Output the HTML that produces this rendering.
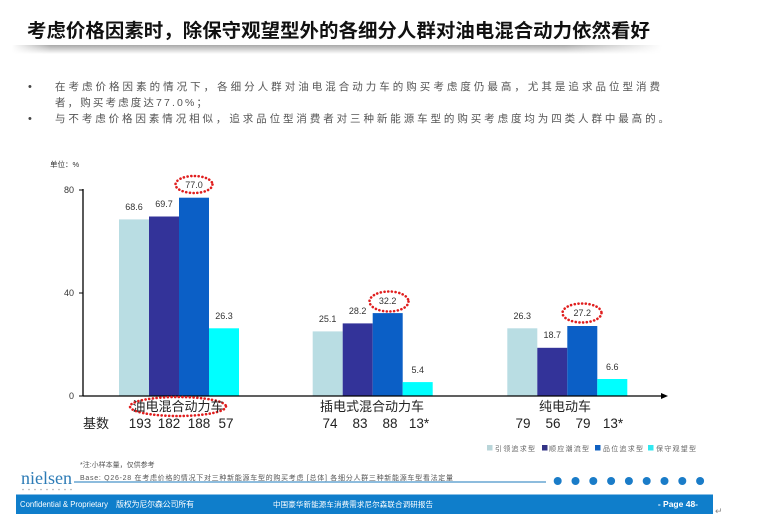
<!DOCTYPE html>
<html>
<head>
<meta charset="utf-8">
<style>
  html,body{margin:0;padding:0;background:#fff;}
  body{width:760px;height:527px;overflow:hidden;position:relative;}
  svg{display:block;}
  .cjk{font-family:"Liberation Sans","Noto Sans CJK SC","WenQuanYi Zen Hei",sans-serif;}
</style>
</head>
<body>
<svg width="760" height="527" viewBox="0 0 760 527" xmlns="http://www.w3.org/2000/svg">
  <defs>
    <linearGradient id="shv" x1="0" y1="0" x2="0" y2="1">
      <stop offset="0" stop-color="#a8a8a8"/>
      <stop offset="0.5" stop-color="#d4d4d4"/>
      <stop offset="1" stop-color="#ffffff"/>
    </linearGradient>
    <linearGradient id="shh" x1="0" y1="0" x2="1" y2="0">
      <stop offset="0" stop-color="#fff" stop-opacity="1"/>
      <stop offset="0.06" stop-color="#fff" stop-opacity="0"/>
      <stop offset="0.85" stop-color="#fff" stop-opacity="0"/>
      <stop offset="1" stop-color="#fff" stop-opacity="1"/>
    </linearGradient>
  </defs>

  <!-- Title -->
  <text x="27" y="37" class="cjk" font-size="19" font-weight="bold" fill="#111" textLength="623" lengthAdjust="spacingAndGlyphs">考虑价格因素时，除保守观望型外的各细分人群对油电混合动力依然看好</text>
  <rect x="12" y="45" width="650" height="9" fill="url(#shv)"/>
  <rect x="12" y="45" width="650" height="9" fill="url(#shh)"/>

  <!-- Bullets -->
  <text x="28" y="90" font-family="Liberation Sans, sans-serif" font-size="11" fill="#444">•</text>
  <text x="55" y="90" class="cjk" font-size="10.5" fill="#555" textLength="605" lengthAdjust="spacing">在考虑价格因素的情况下，各细分人群对油电混合动力车的购买考虑度仍最高，尤其是追求品位型消费</text>
  <text x="55" y="106" class="cjk" font-size="10.5" fill="#555" textLength="152" lengthAdjust="spacing">者，购买考虑度达77.0%；</text>
  <text x="28" y="122" font-family="Liberation Sans, sans-serif" font-size="11" fill="#444">•</text>
  <text x="55" y="122" class="cjk" font-size="10.5" fill="#555" textLength="614" lengthAdjust="spacing">与不考虑价格因素情况相似，追求品位型消费者对三种新能源车型的购买考虑度均为四类人群中最高的。</text>

  <!-- Chart axes -->
  <text x="50" y="167" class="cjk" font-size="7.5" fill="#333">单位：%</text>
  <line x1="83" y1="189" x2="83" y2="396.5" stroke="#000" stroke-width="1.3"/>
  <line x1="79" y1="190" x2="83" y2="190" stroke="#000" stroke-width="1"/>
  <line x1="79" y1="293" x2="83" y2="293" stroke="#000" stroke-width="1"/>
  <line x1="79" y1="396" x2="83" y2="396" stroke="#000" stroke-width="1"/>
  <text x="74" y="193" text-anchor="end" font-family="Liberation Sans, sans-serif" font-size="9" fill="#333">80</text>
  <text x="74" y="296" text-anchor="end" font-family="Liberation Sans, sans-serif" font-size="9" fill="#333">40</text>
  <text x="74" y="399" text-anchor="end" font-family="Liberation Sans, sans-serif" font-size="9" fill="#333">0</text>

  <!-- Group 1 -->
  <rect x="119" y="219.4" width="30" height="176.6" fill="#b9dde3"/>
  <rect x="149" y="216.5" width="30" height="179.5" fill="#333399"/>
  <rect x="179" y="197.7" width="30" height="198.3" fill="#0b5fc6"/>
  <rect x="209" y="328.3" width="30" height="67.7" fill="#00ffff"/>
  <!-- Group 2 -->
  <rect x="312.7" y="331.4" width="30" height="64.6" fill="#b9dde3"/>
  <rect x="342.7" y="323.4" width="30" height="72.6" fill="#333399"/>
  <rect x="372.7" y="313.1" width="30" height="82.9" fill="#0b5fc6"/>
  <rect x="402.7" y="382.1" width="30" height="13.9" fill="#00ffff"/>
  <!-- Group 3 -->
  <rect x="507.3" y="328.3" width="30" height="67.7" fill="#b9dde3"/>
  <rect x="537.3" y="347.8" width="30" height="48.2" fill="#333399"/>
  <rect x="567.3" y="326" width="30" height="70" fill="#0b5fc6"/>
  <rect x="597.3" y="379" width="30" height="17" fill="#00ffff"/>

  <!-- x axis -->
  <line x1="83" y1="396" x2="663" y2="396" stroke="#000" stroke-width="1.3"/>
  <polygon points="668,396 661,393 661,399" fill="#000"/>

  <!-- value labels -->
  <g font-family="Liberation Sans, sans-serif" font-size="9" fill="#333" text-anchor="middle">
    <text x="134" y="210">68.6</text>
    <text x="164" y="207">69.7</text>
    <text x="194" y="188">77.0</text>
    <text x="224" y="319">26.3</text>
    <text x="327.7" y="322">25.1</text>
    <text x="357.7" y="314">28.2</text>
    <text x="387.7" y="304">32.2</text>
    <text x="417.7" y="373">5.4</text>
    <text x="522.3" y="319">26.3</text>
    <text x="552.3" y="338">18.7</text>
    <text x="582.3" y="316">27.2</text>
    <text x="612.3" y="370">6.6</text>
  </g>

  <!-- red dotted ellipses -->
  <g fill="none" stroke="#e01e1e" stroke-width="2.6" stroke-dasharray="0.1 3.6" stroke-linecap="round">
    <ellipse cx="194" cy="184.5" rx="18.5" ry="8.5"/>
    <ellipse cx="389" cy="301.5" rx="19.5" ry="10"/>
    <ellipse cx="582" cy="313" rx="19.5" ry="9.5"/>
    <ellipse cx="178" cy="406.5" rx="48" ry="9.5"/>
  </g>

  <!-- category labels -->
  <g class="cjk" font-size="13" fill="#222" text-anchor="middle">
    <text x="178" y="411">油电混合动力车</text>
    <text x="372" y="411">插电式混合动力车</text>
    <text x="565" y="411">纯电动车</text>
  </g>
  <text x="83" y="428" class="cjk" font-size="13" fill="#222">基数</text>
  <g font-family="Liberation Sans, sans-serif" font-size="13.5" fill="#222" text-anchor="middle">
    <text x="140" y="428">193</text>
    <text x="169" y="428">182</text>
    <text x="199" y="428">188</text>
    <text x="226" y="428">57</text>
    <text x="330" y="428">74</text>
    <text x="360" y="428">83</text>
    <text x="390" y="428">88</text>
    <text x="419" y="428">13*</text>
    <text x="523" y="428">79</text>
    <text x="553" y="428">56</text>
    <text x="583" y="428">79</text>
    <text x="613" y="428">13*</text>
  </g>

  <!-- legend -->
  <rect x="487" y="445" width="5.5" height="5.5" fill="#b9d5d9"/>
  <text x="495" y="451" class="cjk" font-size="7" fill="#666" textLength="40" lengthAdjust="spacing">引领追求型</text>
  <rect x="542" y="445" width="5.5" height="5.5" fill="#333385"/>
  <text x="549" y="451" class="cjk" font-size="7" fill="#666" textLength="40" lengthAdjust="spacing">顺应潮流型</text>
  <rect x="595" y="445" width="5.5" height="5.5" fill="#1060c0"/>
  <text x="603" y="451" class="cjk" font-size="7" fill="#666" textLength="40" lengthAdjust="spacing">品位追求型</text>
  <rect x="648" y="445" width="5.5" height="5.5" fill="#30e8f0"/>
  <text x="656" y="451" class="cjk" font-size="7" fill="#666" textLength="40" lengthAdjust="spacing">保守观望型</text>

  <!-- footnotes -->
  <text x="80" y="467" class="cjk" font-size="7" fill="#555">*注:小样本量，仅供参考</text>
  <text x="80" y="480" class="cjk" font-size="7" fill="#555" textLength="373" lengthAdjust="spacing">Base: Q26-28 在考虑价格的情况下对三种新能源车型的购买考虑 [总体] 各细分人群三种新能源车型看法定量</text>

  <!-- nielsen logo -->
  <text x="21" y="484" font-family="Liberation Serif, serif" font-size="18" fill="#2c7bb6" textLength="51" lengthAdjust="spacingAndGlyphs">nielsen</text>
  <g fill="#aaa">
    <circle cx="23" cy="489.5" r="0.8"/><circle cx="29" cy="489.5" r="0.8"/><circle cx="35" cy="489.5" r="0.8"/>
    <circle cx="41" cy="489.5" r="0.8"/><circle cx="47" cy="489.5" r="0.8"/><circle cx="53" cy="489.5" r="0.8"/>
    <circle cx="59" cy="489.5" r="0.8"/><circle cx="65" cy="489.5" r="0.8"/><circle cx="71" cy="489.5" r="0.8"/>
  </g>

  <!-- divider line and dots -->
  <line x1="74" y1="482" x2="546" y2="482" stroke="#7db3d8" stroke-width="1.8"/>
  <g fill="#1a7cc8">
    <circle cx="557.7" cy="481" r="4"/>
    <circle cx="575.5" cy="481" r="4"/>
    <circle cx="593.3" cy="481" r="4"/>
    <circle cx="611.1" cy="481" r="4"/>
    <circle cx="628.9" cy="481" r="4"/>
    <circle cx="646.7" cy="481" r="4"/>
    <circle cx="664.5" cy="481" r="4"/>
    <circle cx="682.3" cy="481" r="4"/>
    <circle cx="700.1" cy="481" r="4"/>
  </g>

  <!-- footer bar -->
  <rect x="16" y="494.5" width="697" height="19.5" fill="#0f7ecb"/>
  <text x="20" y="507" font-family="Liberation Sans, sans-serif" font-size="8.5" fill="#fff" textLength="88" lengthAdjust="spacingAndGlyphs">Confidential &amp; Proprietary</text>
  <text x="116" y="507" class="cjk" font-size="8" fill="#fff" textLength="78" lengthAdjust="spacing">版权为尼尔森公司所有</text>
  <text x="273" y="507" class="cjk" font-size="7.5" fill="#fff" textLength="160" lengthAdjust="spacing">中国豪华新能源车消费需求尼尔森联合调研报告</text>
  <text x="698" y="507" text-anchor="end" font-family="Liberation Sans, sans-serif" font-size="8.5" font-weight="bold" fill="#fff">- Page 48-</text>
  <text x="715" y="514" font-family="Liberation Sans, sans-serif" font-size="9" fill="#888">↵</text>
</svg>
</body>
</html>
